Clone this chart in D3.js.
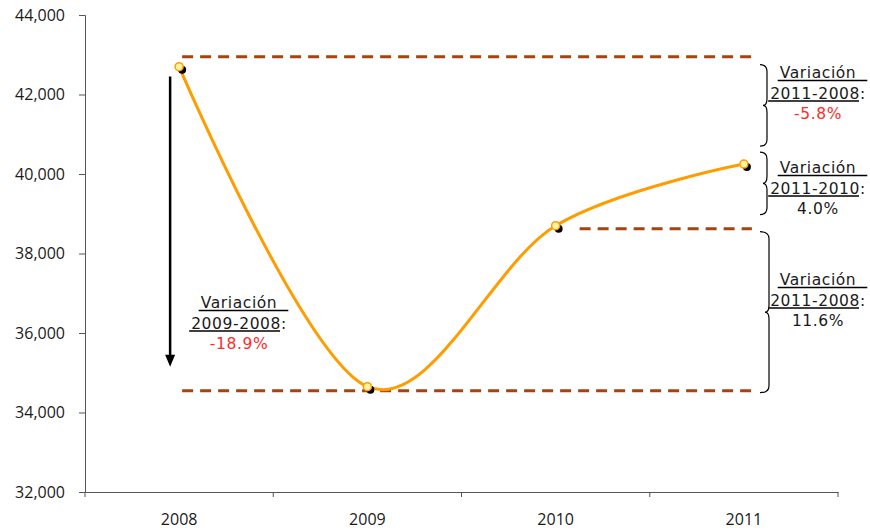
<!DOCTYPE html>
<html>
<head>
<meta charset="utf-8">
<script src="https://cdnjs.cloudflare.com/ajax/libs/d3/7.8.5/d3.min.js"></script>
<style>
  body { margin: 0; background: #fff; }
  svg { display: block; }
</style>
</head>
<body>
<div id="chart-area"></div>
<script>
// data
var years = ["2008", "2009", "2010", "2011"];
var values = [42700, 34650, 38700, 40250];
var yTicks = [32000, 34000, 36000, 38000, 40000, 42000, 44000];

// dashed reference levels
var refLevels = [42950, 34550, 38620];
var refFrom = ["2008", "2008", "2010"];
var refTo = ["2011", "2011", "2011"];

// braces on the right + their notes
var braceTop = [42750, 40550, 38550];
var braceBottom = [40700, 38980, 34500];
var noteRanges = ["2011-2008", "2011-2010", "2011-2008"];
var noteChanges = ["-5.8%", "4.0%", "11.6%"];
var noteRed = [true, false, false];

// arrow on the left
var arrowFrom = 42450, arrowTo = 35150;
var leftRange = "2009-2008", leftChange = "-18.9%";

var margin = {left: 85, right: 32, top: 15, bottom: 40};
var width = 870 - margin.left - margin.right,
	height = 532 - margin.top - margin.bottom;

var svg = d3.select("#chart-area")
		.append("svg")
			.attr("width", 870)
			.attr("height", 532);
var g = svg.append("g")
		.attr("transform", "translate(" + margin.left + "," + margin.top + ")");

//Scales
var x = d3.scaleBand()
		.domain(years)
		.range([0, width]);
var cx = function(d){ return x(d) + x.bandwidth() / 2; };

var y = d3.scaleLinear()
		.domain([32000, 44000])
		.range([height, 0]);

//y axis
var yAxisCall = d3.axisLeft(y)
		.tickValues(yTicks)
		.tickSize(6)
		.tickPadding(14)
		.tickFormat(d3.format(","));
var yAxis = g.append("g").call(yAxisCall);
yAxis.selectAll("text")
	.attr("font-family", "'Open Sans', sans-serif")
	.attr("font-size", "16px")
	.attr("fill", "#1a1a1a");
yAxis.selectAll("line, path").attr("stroke", "#555");

//x axis (labels only, then boundary ticks)
var xAxisCall = d3.axisBottom(x)
		.tickSize(0)
		.tickPadding(22);
var xAxis = g.append("g")
		.attr("transform", "translate(0," + height + ")")
		.call(xAxisCall);
xAxis.selectAll("text")
	.attr("font-family", "'Open Sans', sans-serif")
	.attr("font-size", "16px")
	.attr("fill", "#1a1a1a");
xAxis.select("path").attr("stroke", "#555");
xAxis.selectAll(".bound")
	.data(years.map(function(d){ return x(d); }).concat([width]))
	.enter().append("line")
		.attr("class", "bound")
		.attr("x1", function(d){ return d; })
		.attr("x2", function(d){ return d; })
		.attr("y1", 0)
		.attr("y2", 5)
		.attr("stroke", "#555");

//dashed reference lines
var refStartPad = [3, 3, 24];
g.selectAll(".ref")
	.data(refLevels)
	.enter().append("line")
		.attr("class", "ref")
		.attr("x1", function(d, i){ return cx(refFrom[i]) + refStartPad[i]; })
		.attr("x2", function(d, i){ return cx(refTo[i]) + 8; })
		.attr("y1", function(d){ return y(d); })
		.attr("y2", function(d){ return y(d); })
		.attr("stroke", "#A5440F")
		.attr("stroke-width", 3)
		.attr("stroke-dasharray", "11,7");

//the line
var line = d3.line()
		.x(function(d, i){ return cx(years[i]); })
		.y(function(d){ return y(d); })
		.curve(d3.curveCardinal.tension(0));

g.append("path")
	.datum(values)
	.attr("fill", "none")
	.attr("stroke", "#FF9C00")
	.attr("stroke-width", 3)
	.attr("d", line);

//markers (black shadow + yellow dot)
g.selectAll(".shadow")
	.data(values)
	.enter().append("circle")
		.attr("class", "shadow")
		.attr("cx", function(d, i){ return cx(years[i]) + 3; })
		.attr("cy", function(d){ return y(d) + 3; })
		.attr("r", 4)
		.attr("fill", "#000");
g.selectAll(".dot")
	.data(values)
	.enter().append("circle")
		.attr("class", "dot")
		.attr("cx", function(d, i){ return cx(years[i]); })
		.attr("cy", function(d){ return y(d); })
		.attr("r", 4)
		.attr("fill", "#FFF3A6")
		.attr("stroke", "#FF9C00")
		.attr("stroke-width", 1.5);

//arrow
var ax = cx("2008") - 9;
g.append("line")
	.attr("x1", ax).attr("x2", ax)
	.attr("y1", y(arrowFrom))
	.attr("y2", y(arrowTo) - 10)
	.attr("stroke", "#000")
	.attr("stroke-width", 2.5);
g.append("path")
	.attr("d", "M" + (ax - 5) + "," + (y(arrowTo) - 12) +
			   "L" + (ax + 5) + "," + (y(arrowTo) - 12) +
			   "L" + ax + "," + y(arrowTo) + "Z")
	.attr("fill", "#000");

//braces
function bracePath(y0, y1, x0, x1){
	var ym = (y0 + y1) / 2, r = 7;
	return "M" + x0 + "," + y0 +
		"Q" + x1 + "," + y0 + " " + x1 + "," + (y0 + r) +
		"L" + x1 + "," + (ym - r) +
		"Q" + x1 + "," + ym + " " + (x1 - 4) + "," + ym +
		"Q" + x1 + "," + ym + " " + x1 + "," + (ym + r) +
		"L" + x1 + "," + (y1 - r) +
		"Q" + x1 + "," + y1 + " " + x0 + "," + y1;
}
var braceX1 = [767, 767, 769];
g.selectAll(".brace")
	.data(braceTop)
	.enter().append("path")
		.attr("class", "brace")
		.attr("d", function(d, i){
			return bracePath(y(d), y(braceBottom[i]),
				760 - margin.left, braceX1[i] - margin.left);
		})
		.attr("fill", "none")
		.attr("stroke", "#000")
		.attr("stroke-width", 1.2);

//notes
var noteFont = "'DejaVu Sans', Verdana, sans-serif";
function noteLine(px, py, str, ulLen, extra, color){
	var t = svg.append("text")
		.attr("x", px)
		.attr("y", py)
		.attr("text-anchor", "middle")
		.attr("font-family", noteFont)
		.attr("font-size", "15.5px")
		.attr("letter-spacing", "0.6px")
		.attr("fill", color)
		.text(str);
	if (ulLen > 0) {
		var node = t.node();
		var total = node.getComputedTextLength();
		var sub = node.getSubStringLength(0, ulLen);
		var x0 = px - total / 2;
		svg.append("line")
			.attr("x1", x0 - 2)
			.attr("x2", x0 + sub + extra)
			.attr("y1", py + 2.5)
			.attr("y2", py + 2.5)
			.attr("stroke", "#000")
			.attr("stroke-width", 1.3);
	}
}
function note(px, py, range, change, red){
	noteLine(px, py, "Variación", 9, 11, "#1a1a1a");
	noteLine(px, py + 20.5, range + ":", range.length, -1, "#1a1a1a");
	noteLine(px, py + 41, change, 0, 0, red ? "#FF2A2A" : "#1a1a1a");
}
var noteY = [78, 173, 285];
noteRanges.forEach(function(r, i){
	note(818, noteY[i], r, noteChanges[i], noteRed[i]);
});
note(239, 308, leftRange, leftChange, true);
</script>
</body>
</html>
